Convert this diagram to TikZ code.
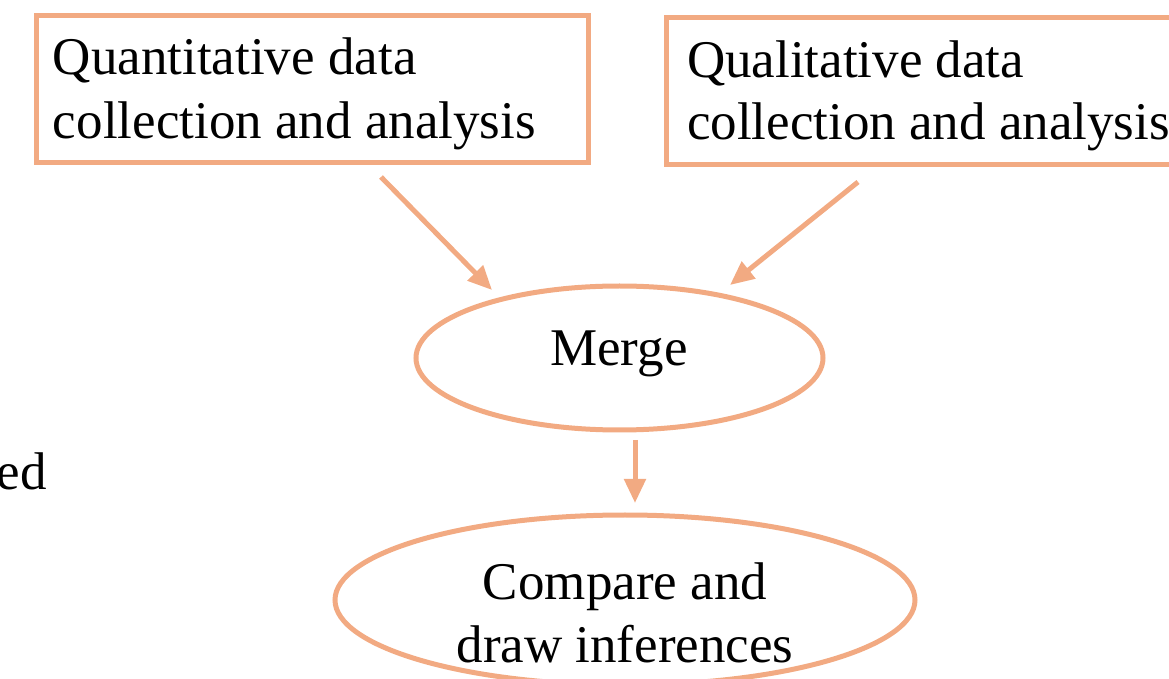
\documentclass[tikz,border=0pt]{standalone}
\usepackage{fontspec}
\setmainfont{Liberation Serif}
\usetikzlibrary{arrows.meta,shapes.geometric,calc}
\definecolor{peach}{RGB}{242,170,130}
\begin{document}
\begin{tikzpicture}[x=0.5pt,y=-0.5pt,
  every node/.style={inner sep=0pt,outer sep=0pt},
  frame/.style={draw=peach,line width=2.5pt,rectangle},
  oval/.style={draw=peach,line width=2.5pt,ellipse},
  lbl/.style={font=\fontsize{26.5pt}{32pt}\selectfont},
  flow/.style={draw=peach,line width=2.5pt,-{Triangle[length=12pt,width=10.5pt]}}]
\useasboundingbox (0,0) rectangle (1169,679);

% boxes and ovals
\node[frame,minimum width=276pt,minimum height=73.75pt] (qt) at (312,89.25) {};
\node[frame,minimum width=254.5pt,minimum height=73.5pt] (ql) at (920.5,91.5) {};
\node[oval,minimum width=203.5pt,minimum height=72pt] (mg) at (619.5,358) {};
\node[oval,minimum width=290pt,minimum height=85pt] (cmp) at (625,600) {};

% texts
\node[lbl,anchor=base west] (qt1) at (53,75) {Quantitative data};
\node[lbl,anchor=base west] (qt2) at (53,139) {collection and analysis};
\node[lbl,anchor=base west] (ql1) at (687,78) {Qualitative data};
\node[lbl,anchor=base west] (ql2) at (687,140) {collection and analysis};
\node[lbl,anchor=base] (mgt) at (619,366) {Merge};
\node[lbl,anchor=base] (cmp1) at (625,600) {Compare and};
\node[lbl,anchor=base] (cmp2) at (625,662) {draw inferences};
\node[lbl,anchor=base east] (side) at (47,490) {ed};

% connectors
\draw[flow] ($(qt.south)+(69,14)$) -- ($(mg.north)+(-127.5,4)$);
\draw[flow] ($(ql.south)+(-62.5,17)$) -- ($(mg.north)+(110.5,-1)$);
\draw[flow] ($(mg.south)+(15.5,10)$) -- ($(cmp.north)+(10,-12)$);
\end{tikzpicture}
\end{document}
